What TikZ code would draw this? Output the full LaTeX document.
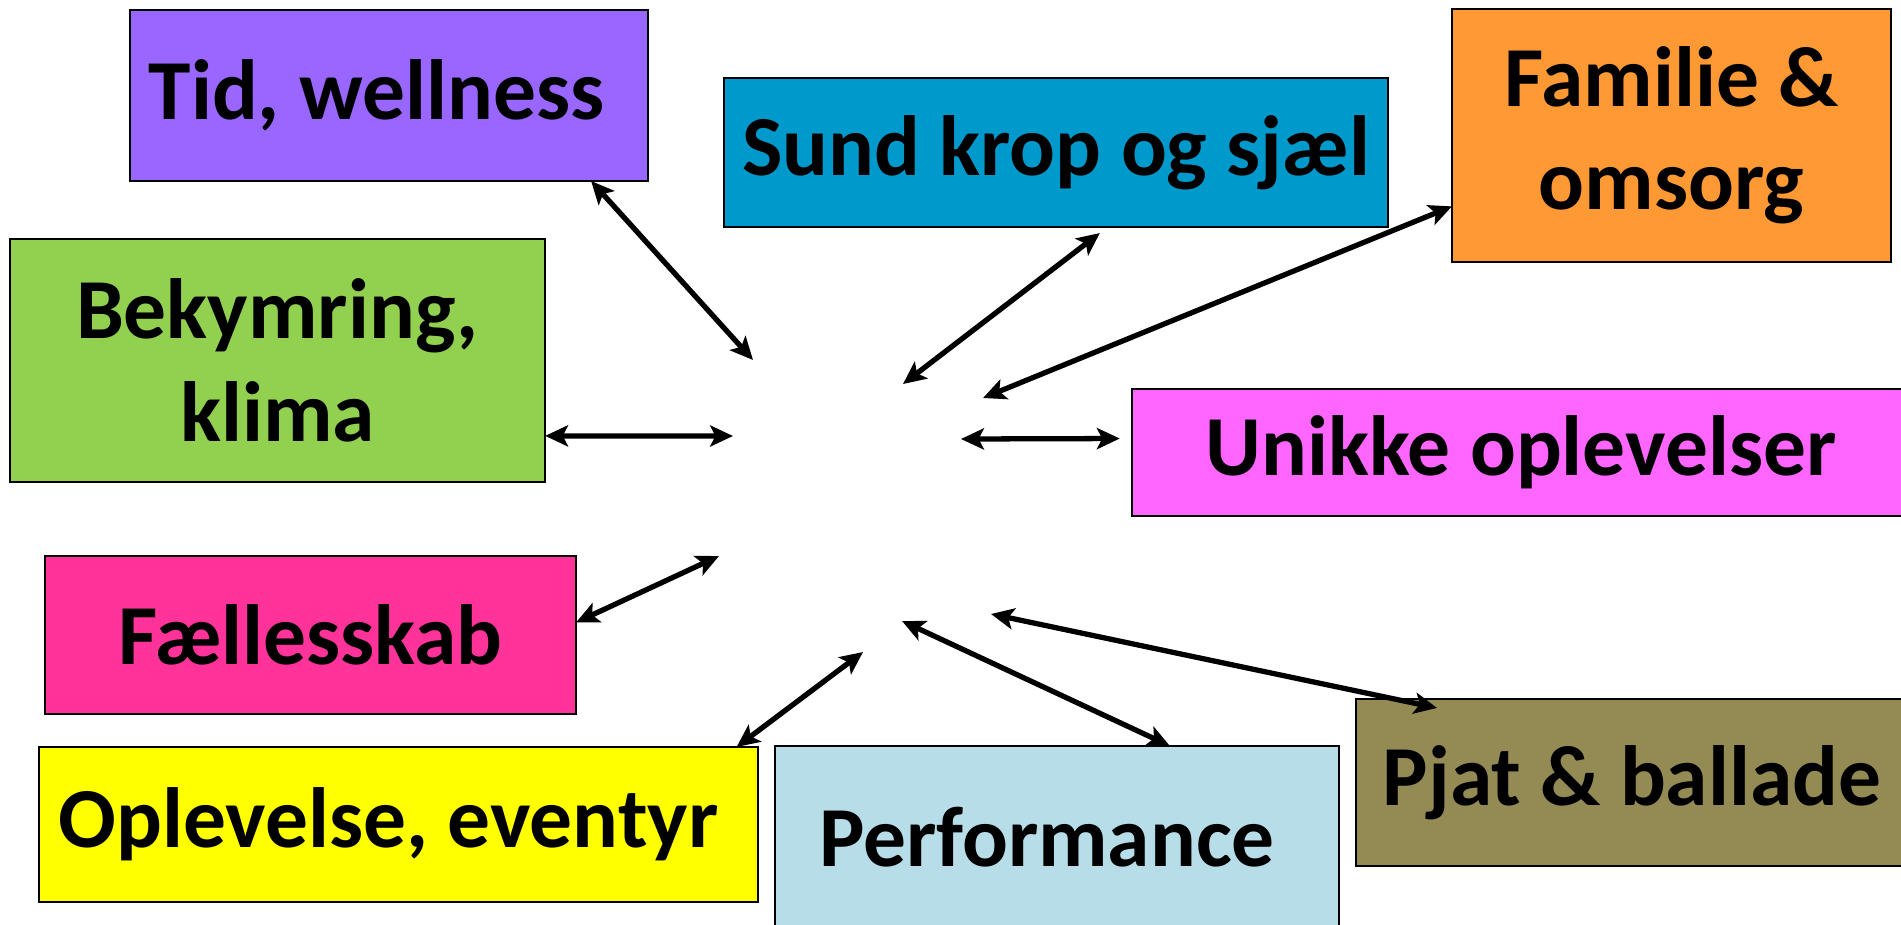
\documentclass[tikz,border=0pt]{standalone}
\usepackage{fontspec}
\setmainfont{Carlito}
\definecolor{TidColor}{HTML}{9966FF}
\definecolor{SundColor}{HTML}{0099CC}
\definecolor{FamilieColor}{HTML}{FF9933}
\definecolor{BekymringColor}{HTML}{92D050}
\definecolor{UnikkeColor}{HTML}{FF66FF}
\definecolor{FaellesColor}{HTML}{FF3399}
\definecolor{OplevelseColor}{HTML}{FFFF00}
\definecolor{PerformanceColor}{HTML}{B7DEE8}
\definecolor{PjatColor}{HTML}{948A54}
\usetikzlibrary{arrows.meta, positioning, calc}

\begin{document}
\begin{tikzpicture}[x=0.01cm, y=-0.01cm,
            box/.style={draw=black, line width=0.6pt, inner sep=0pt, outer sep=0pt, align=center, font=\fontsize{24.3}{29.3}\selectfont\bfseries},
            arrow/.style={{Stealth[length=6.5pt,width=6pt,inset=1.5pt]}-{Stealth[length=6.5pt,width=6pt,inset=1.5pt]}, line width=1.5pt}
        ]
            \useasboundingbox (0,0) rectangle (1901,924);
            \clip (0,0) rectangle (1901,924);

            \node[box, fill=TidColor, minimum width=5.18cm, minimum height=1.71cm] (tid) at (389,95.5) {Tid, wellness\hspace{0.25cm}};
            \node[box, fill=SundColor, minimum width=6.64cm, minimum height=1.49cm] (sund) at (1056,152.5) {Sund krop og sjæl};
            \node[box, fill=FamilieColor, minimum width=4.39cm, minimum height=2.53cm] (familie) at (1671.5,135.5) {Familie \&\\omsorg};
            \node[box, fill=BekymringColor, minimum width=5.35cm, minimum height=2.43cm] (bekymring) at (277.5,360.5) {Bekymring,\\klima};
            \node[box, fill=UnikkeColor, minimum width=7.78cm, minimum height=1.27cm] (unikke) at (1521,452.5) {Unikke oplevelser};
            \node[box, fill=FaellesColor, minimum width=5.31cm, minimum height=1.58cm] (faelles) at (310.5,635) {Fællesskab};
            \node[box, fill=OplevelseColor, minimum width=7.19cm, minimum height=1.55cm] (oplevelse) at (398.5,824.5) {Oplevelse, eventyr\hspace{0.2cm}};
            \node[box, fill=PerformanceColor, minimum width=5.64cm, minimum height=1.82cm] (performance) at (1057,837) {Performance\hspace{0.2cm}};
            \node[box, fill=PjatColor, minimum width=5.52cm, minimum height=1.67cm] (pjat) at (1632,782.5) {Pjat \& ballade};

            \coordinate (tidend) at (753,360);
            \coordinate (sundend) at (903,384);
            \coordinate (familieend) at (983,398);
            \coordinate (bekymringend) at (733,436);
            \coordinate (unikkeend) at (961,439);
            \coordinate (faellesend) at (719,556);
            \coordinate (oplevelseend) at (863,652);
            \coordinate (performanceend) at (902,621);
            \coordinate (pjatend) at (991,614);

            \draw[arrow] ($(tid.south west)!0.89!(tid.south east)$) -- (tidend);
            \draw[arrow] ($(sund.south west)!0.566!(sund.south east)+(0,6)$) -- (sundend);
            \draw[arrow] ($(familie.north west)!0.78!(familie.south west)$) -- (familieend);
            \draw[arrow] ($(bekymring.north east)!0.81!(bekymring.south east)$) -- (bekymringend);
            \draw[arrow] ($(unikke.north west)!0.39!(unikke.south west)+(-12,0)$) -- (unikkeend);
            \draw[arrow] ($(faelles.north east)!0.42!(faelles.south east)$) -- (faellesend);
            \draw[arrow] ($(oplevelse.north west)!0.97!(oplevelse.north east)$) -- (oplevelseend);
            \draw[arrow] ($(performance.north west)!0.70!(performance.north east)$) -- (performanceend);
            \draw[arrow] ($(pjat.north west)!0.147!(pjat.north east)+(0,9)$) -- (pjatend);
        \end{tikzpicture}
\end{document}
